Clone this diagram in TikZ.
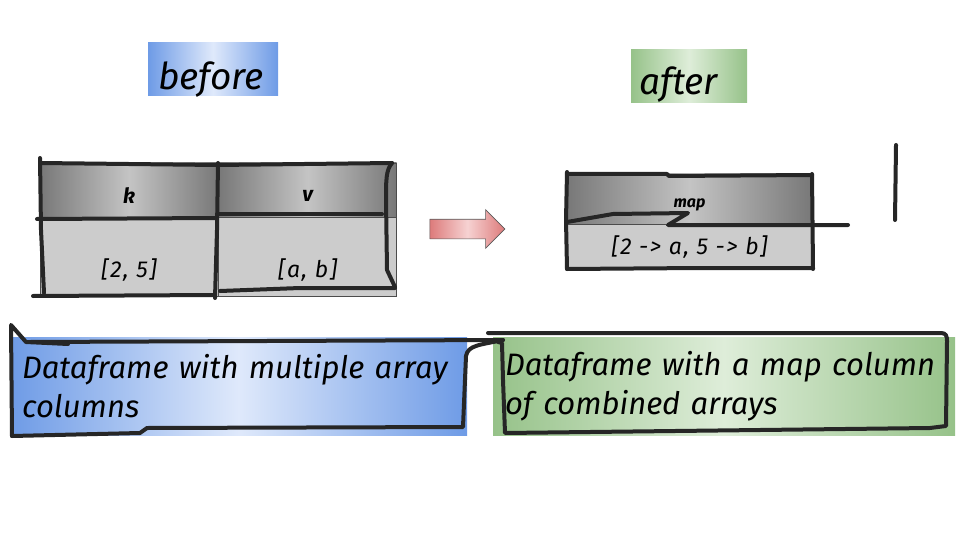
\documentclass[tikz,border=0pt]{standalone}
\usepackage{fontspec}
\setmainfont{Fira Sans}
\newfontfamily\widefont{Fira Sans}[LetterSpace = 7]
\usepackage{tikz}
\usetikzlibrary{
  shapes.arrows,
  shadings,
  positioning
}
\definecolor{inkc}{HTML}{262626}
\definecolor{blueout}{HTML}{6E9BE6}
\definecolor{bluein}{HTML}{DFE9FB}
\definecolor{greenout}{HTML}{96C289}
\definecolor{greenin}{HTML}{DEEDD9}
\definecolor{headout}{HTML}{787878}
\definecolor{headin}{HTML}{C4C4C4}
\definecolor{cellgray}{HTML}{CCCCCC}
\definecolor{arrowout}{HTML}{DD7B7B}
\definecolor{arrowin}{HTML}{F6D2D2}

\begin{document}
\begin{tikzpicture}[x = 1pt, y = -1pt]
  \tikzset{
    hand/.style = {line width = 4pt, draw = inkc, line cap = round, line join = round},
    soft/.style 2 args = {left color = #2, right color = #2, middle color = #1},
    tagbox/.style = {inner ysep = 0pt, align = left, minimum height = 53pt, font = \fontsize{37}{40}\selectfont\itshape},
    headcell/.style = {draw = black!70, line width = 0.6pt, soft = {headin}{headout}, minimum height = 54pt, inner sep = 0pt},
    valcell/.style = {draw = black!70, line width = 0.6pt, fill = cellgray, inner sep = 0pt},
    headtxt/.style = {inner sep = 0pt, font = \fontsize{21}{24}\selectfont\bfseries\itshape},
    valtxt/.style = {inner sep = 0pt, font = \fontsize{23}{26}\selectfont\widefont\itshape},
    capbox/.style = {minimum height = 98pt, align = left, inner xsep = 12pt, inner ysep = 0pt, font = \fontsize{31}{39}\selectfont\itshape}
  }
  \useasboundingbox (0,0) rectangle (960,540);

  \node[tagbox, soft = {bluein}{blueout}, inner xsep = 10pt, text width = 110pt, text height = 47pt, text depth = 6pt] (before) at (213, 69.5) {before};
  \node[tagbox, soft = {greenin}{greenout}, inner xsep = 8pt, text width = 100pt, text height = 45pt, text depth = 8pt] (after) at (689, 76.5) {after};

  % table before
  \node[headcell, minimum width = 178pt] (khead) at (129, 190) {};
  \node[headcell, minimum width = 178pt, right = 0pt of khead] (vhead) {};
  \node[valcell, minimum width = 178pt, minimum height = 79pt, below = 0pt of khead] (kval) {};
  \node[valcell, minimum width = 178pt, minimum height = 79pt, below = 0pt of vhead] (vval) {};
  \node[headtxt] (kname) at ([yshift = -6pt] khead.center) {k};
  \node[headtxt] (vname) at ([yshift = -6pt] vhead.center) {v};
  \node[valtxt] (kitems) at ([yshift = -13pt] kval.center) {[2, 5]};
  \node[valtxt] (vitems) at ([yshift = -13pt] vval.center) {[a, b]};

  \node[single arrow, draw = black!65, line width = 0.6pt, soft = {arrowin}{arrowout}, inner xsep = 0pt, inner ysep = 9.5pt, single arrow head extend = 9.5pt, minimum height = 75pt] (flow) at (462.5, 229) {};

  % table after
  \node[headcell, minimum width = 245pt, minimum height = 50pt] (maphead) at (689.5, 199) {};
  \node[valcell, minimum width = 245pt, minimum height = 44pt, below = 0pt of maphead] (mapval) {};
  \node[headtxt, font = \fontsize{16}{18}\selectfont\bfseries\itshape] (mapname) at ([yshift = -6pt] maphead.center) {map};
  \node[valtxt] (mapitems) at (mapval.center) {[2 -> a, 5 -> b]};

  % captions
  \node[capbox, soft = {bluein}{blueout}, text width = 433pt] (leftcap) at (238.5, 386) {Dataframe with multiple array\\columns};
  \node[capbox, soft = {greenin}{greenout}, text width = 438pt] (rightcap) at (724, 386) {Dataframe with a map column\\of combined arrays};

  % hand strokes
  \draw[hand] (40,158) -- (41,230) -- (44,293);
  \draw[hand] (40,163) -- (217,165) -- (392,163);
  \draw[hand] (392,163) .. controls (386,170) and (386,180) .. (386,200) -- (387,270) -- (395,287);
  \draw[hand] (37,219) -- (217,218);
  \draw[hand] (217,214) -- (382,214);
  \draw[hand] (218,163) -- (217,230) -- (215,298);
  \draw[hand] (33,296) -- (215,295);
  \draw[hand] (220,291) -- (300,288) -- (395,288);

  \draw[hand] (567,172) -- (566,220) -- (567,269);
  \draw[hand] (567,174) -- (667,174) -- (669,176) -- (812,175);
  \draw[hand] (812,174) -- (813,269);
  \draw[hand] (567,269) -- (700,268) -- (812,268);
  \draw[hand] (567,222) -- (613,214) -- (688,213) -- (668,225) -- (848,225);
  \draw[hand] (896,145) -- (895,220);

  \draw[hand] (12,436) -- (11,325) -- (26,342) -- (68,344);
  \draw[hand] (30,342) -- (503,340);
  \draw[hand] (503,340) .. controls (480,345) and (468,345) .. (466,356) -- (463,427) -- (147,428) -- (140,433) -- (12,436);
  \draw[hand] (488,333) -- (941,333) .. controls (946,333) and (947,336) .. (947,341) -- (946,426) -- (930,428) -- (505,433) -- (503,380) -- (502,343) -- (498,342);
\end{tikzpicture}
\end{document}
